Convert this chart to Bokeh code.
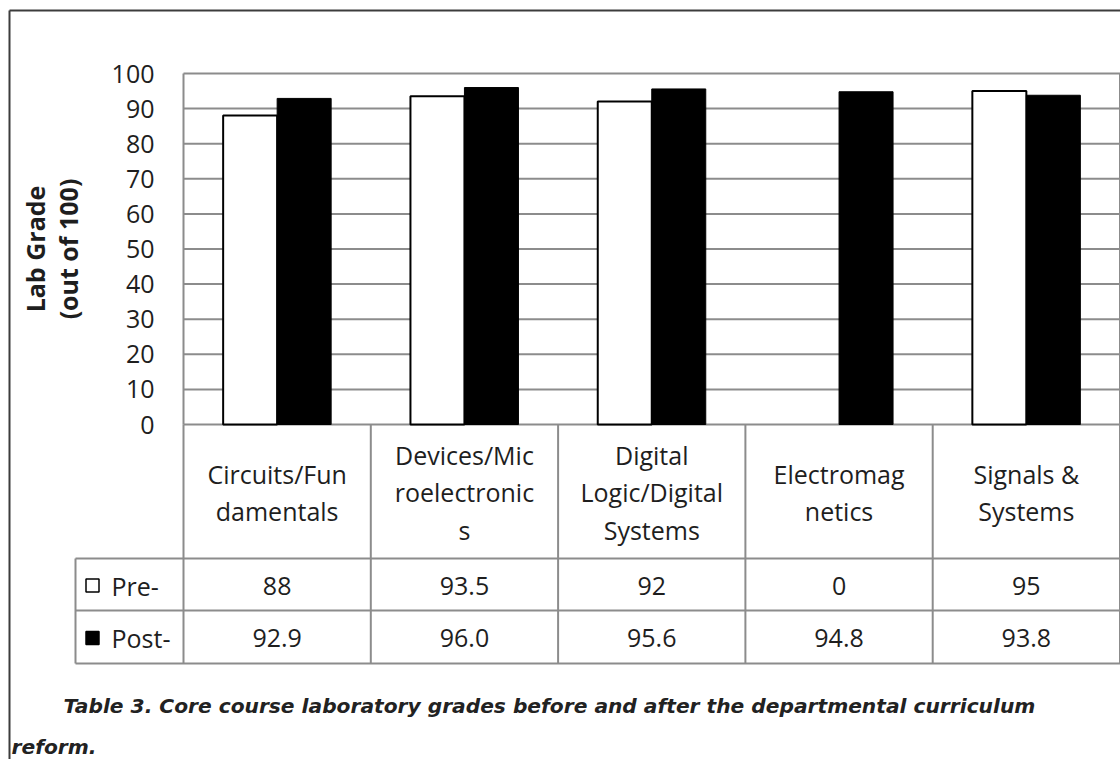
import math
from bokeh.plotting import figure
from bokeh.models import ColumnDataSource, Range1d
from bokeh.transform import dodge
from bokeh.core.properties import value
from bokeh.embed import file_html
from bokeh.resources import INLINE

# ---------------- data ----------------
categories = ["Circuits/Fundamentals", "Devices/Microelectronics",
              "Digital Logic/Digital Systems", "Electromagnetics", "Signals & Systems"]
category_labels = ["Circuits/Fun\ndamentals", "Devices/Mic\nroelectronic\ns",
                   "Digital\nLogic/Digital\nSystems", "Electromag\nnetics", "Signals &\nSystems"]
pre_values = [88, 93.5, 92, 0, 95]
post_values = [92.9, 96.0, 95.6, 94.8, 93.8]
series_names = ["Pre-", "Post-"]
y_ticks = [0, 10, 20, 30, 40, 50, 60, 70, 80, 90, 100]
y_title = "Lab Grade\n(out of 100)"
caption_lines = ["Table 3. Core course laboratory grades before and after the departmental curriculum",
                 "reform."]

# ---------------- layout (page pixels) ----------------
W, H = 1120, 759
PX0, PY0 = 0, 0                 # page origin of the canvas
PLOT_L, PLOT_T, PLOT_B = 183, 73, 424
N = len(categories)
col_px = (1119.5 - PLOT_L) / N
unit_px = (PLOT_B - PLOT_T) / 100.0
bar_w = 54 / col_px
HEAD_B, PRE_B, POST_B = 558, 610, 663
LAB_L = 75
GRID = "#8c8c8c"
TXT = "#1e1e1e"
FONT = "Open Sans"

x_rng = Range1d(-(PLOT_L - PX0) / col_px, (PX0 + W - PLOT_L) / col_px)
y_rng = Range1d(-(PY0 + H - PLOT_B) / unit_px, 100 + (PLOT_T - PY0) / unit_px)

p = figure(width=W, height=H, x_range=x_rng, y_range=y_rng,
           x_axis_location=None, y_axis_location=None, toolbar_location=None,
           output_backend="svg", min_border=0)
p.extra_x_ranges = {"px": Range1d(PX0, PX0 + W)}
p.extra_y_ranges = {"px": Range1d(PY0 + H, PY0)}
p.outline_line_color = None
p.xgrid.visible = False
p.ygrid.visible = False
p.background_fill_color = "white"
p.border_fill_color = "white"

xs = [i + 0.5 for i in range(N)]
src = ColumnDataSource(dict(
    x=xs, pre=pre_values, post=post_values,
    pre_alpha=[1.0 if v > 0 else 0.0 for v in pre_values],
))

# outer border (top + left)
p.segment(x0=[9, 9], y0=[10, 10], x1=[PX0 + W, 9], y1=[10, PY0 + H],
          x_range_name="px", y_range_name="px", line_color="#3c3c3c", line_width=2)

# gridlines (grade scale)
p.segment(x0=[0] * len(y_ticks), x1=[N] * len(y_ticks), y0=y_ticks, y1=y_ticks,
          line_color=GRID, line_width=2)
p.segment(x0=[0, N], x1=[0, N], y0=[0, 0], y1=[100, 100], line_color=GRID, line_width=2)

# bars
p.vbar(x=dodge("x", -bar_w / 2, range=p.x_range), top="pre", width=bar_w, source=src,
       fill_color="white", line_color="black", line_width=2, line_alpha="pre_alpha")
p.vbar(x=dodge("x", bar_w / 2, range=p.x_range), top="post", width=bar_w, source=src,
       fill_color="black", line_color="black", line_width=1)

# y tick labels and title
p.text(x=[154] * len(y_ticks), y=y_ticks, text=[str(t) for t in y_ticks],
       x_range_name="px", text_align="right", text_baseline="middle",
       text_font=value(FONT), text_font_size="25px", text_color=TXT)
p.text(x=[51], y=[(PLOT_T + PLOT_B) / 2], text=[y_title], angle=math.pi / 2,
       x_range_name="px", y_range_name="px", text_align="center", text_baseline="middle",
       text_font=value(FONT), text_font_style="bold", text_font_size="25px",
       text_line_height=0.95, text_color=TXT)

# data table lines (x in category units, y in page pixels)
lab_l = (LAB_L - PLOT_L) / col_px
x0s, y0s, x1s, y1s = [], [], [], []
for i in range(N + 1):
    x0s.append(i); x1s.append(i); y0s.append(PLOT_B); y1s.append(POST_B)
x0s.append(lab_l); x1s.append(lab_l); y0s.append(HEAD_B); y1s.append(POST_B)
for yy in [HEAD_B, PRE_B, POST_B]:
    x0s.append(lab_l); x1s.append(N); y0s.append(yy); y1s.append(yy)
p.segment(x0=x0s, y0=y0s, x1=x1s, y1=y1s, y_range_name="px",
          line_color=GRID, line_width=2)

# table texts
p.text(x=xs, y=[(PLOT_B + HEAD_B) / 2 + 1] * N, text=category_labels, y_range_name="px",
       text_align="center", text_baseline="middle", text_font=value(FONT),
       text_font_size="25px", text_line_height=1.1, text_color=TXT)
pre_txt = [f"{v:g}" for v in pre_values]
post_txt = [f"{v:.1f}" for v in post_values]
p.text(x=xs, y=[(HEAD_B + PRE_B) / 2 + 1] * N, text=pre_txt, y_range_name="px",
       text_align="center", text_baseline="middle", text_font=value(FONT),
       text_font_size="25px", text_color=TXT)
p.text(x=xs, y=[(PRE_B + POST_B) / 2 + 1] * N, text=post_txt, y_range_name="px",
       text_align="center", text_baseline="middle", text_font=value(FONT),
       text_font_size="25px", text_color=TXT)

row_y = [(HEAD_B + PRE_B) / 2 + 1, (PRE_B + POST_B) / 2 + 1]
p.text(x=[111, 111], y=row_y, text=series_names, x_range_name="px", y_range_name="px",
       text_align="left", text_baseline="middle", text_font=value(FONT),
       text_font_size="25px", text_color=TXT)
p.scatter(x=[92, 92], y=row_y, x_range_name="px", y_range_name="px", marker="square",
          size=13, fill_color=["white", "black"], line_color="black", line_width=1.5)

# caption
p.text(x=[63, 11], y=[705, 746], text=caption_lines, x_range_name="px", y_range_name="px",
       text_align="left", text_baseline="middle", text_font=value("DejaVu Sans"),
       text_font_style="bold italic", text_font_size="20.2px", text_color="#222222")

with open("out.html", "w") as f:
    f.write(file_html(p, INLINE))
